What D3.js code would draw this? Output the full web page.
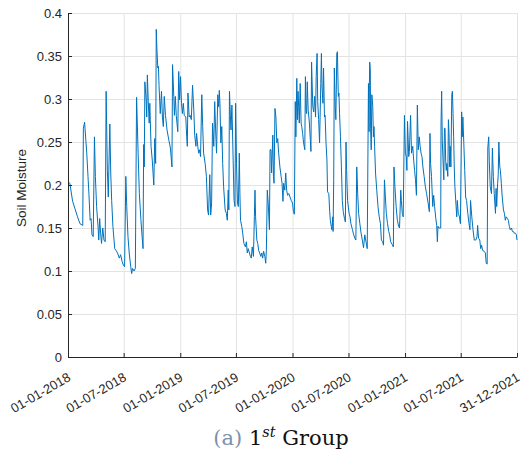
<!DOCTYPE html>
<html lang="en">
<head>
<meta charset="UTF-8">
<script src="https://cdnjs.cloudflare.com/ajax/libs/d3/7.9.0/d3.min.js"></script>
<title>Soil Moisture - 1st Group</title>
<style>
    body {
        margin: 0;
        padding: 0;
        background: #fff;
    }
    svg {
        display: block;
        font-family: "Liberation Sans", Arial, sans-serif;
    }
</style>
</head>
<body>
<div id="chart"></div>
<script>
// time range and ticks
const startDate = "2018-01-01";
const endDate = "2021-12-31";
const xTickDates = ["2018-01-01", "2018-07-01", "2019-01-01", "2019-07-01", "2020-01-01",
                    "2020-07-01", "2021-01-01", "2021-07-01", "2021-12-31"];
const xTickLabels = ["01-01-2018", "01-07-2018", "01-01-2019", "01-07-2019", "01-01-2020",
                     "01-07-2020", "01-01-2021", "01-07-2021", "31-12-2021"];
const yTicks = [0, 0.05, 0.1, 0.15, 0.2, 0.25, 0.3, 0.35, 0.4];
const yTickLabels = ["0", "0.05", "0.1", "0.15", "0.2", "0.25", "0.3", "0.35", "0.4"];

// [days since 01-01-2018, soil moisture]
const moisture2018 = [[0,.204],[6,.202],[15,.181],[24,.171],[31,.163],[39,.155],[48,.153],[50,.266],[54,.273],[58,.252],
    [61,.237],[65,.210],[68,.190],[72,.159],[75,.161],[78,.142],[82,.140],[86,.256],[89,.210],[93,.175],[98,.150],
    [100,.136],[103,.161],[106,.144],[109,.132],[113,.150],[117,.136],[121,.134],[124,.309],[128,.217],[131,.186],
    [136,.271],[139,.214],[142,.182],[146,.152],[152,.126],[156,.124],[161,.121],[167,.115],[171,.119],[176,.111],
    [180,.107],[184,.105],[188,.210],[191,.175],[195,.140],[199,.121],[204,.105],[207,.097],[210,.103],[215,.100],
    [219,.103],[223,.302],[228,.237],[232,.190],[237,.160],[241,.140],[244,.126],[246,.247],[248,.221],[250,.320],
    [254,.299],[256,.279],[258,.328],[261,.297],[264,.272],[266,.295],[270,.245],[274,.229],[279,.200],[282,.254],
    [285,.225],[287,.381],[289,.359],[292,.336],[294,.338],[296,.316],[300,.283],[304,.309],[307,.279],[310,.268],
    [313,.303],[317,.281],[322,.264],[328,.252],[333,.243],[338,.221],[340,.340],[344,.303],[346,.281],[349,.303],
    [352,.281],[357,.262],[360,.332],[363,.299]];

const moisture2019 = [[366,.326],[369,.295],[372,.283],[375,.295],[378,.281],[383,.279],[386,.256],[388,.245],
    [390,.307],[394,.279],[397,.281],[401,.276],[405,.316],[409,.287],[412,.258],[416,.245],[418,.260],[422,.245],
    [425,.237],[428,.241],[431,.233],[435,.305],[438,.268],[441,.237],[446,.225],[450,.210],[454,.171],[457,.165],
    [461,.212],[464,.165],[467,.179],[470,.272],[474,.245],[477,.297],[480,.264],[483,.237],[487,.305],[490,.291],
    [492,.310],[494,.295],[497,.249],[500,.268],[503,.225],[506,.198],[511,.171],[515,.167],[518,.159],[521,.194],
    [523,.171],[525,.309],[528,.281],[530,.264],[533,.293],[537,.229],[540,.182],[543,.175],[545,.295],[548,.225],
    [551,.179],[554,.175],[557,.237],[559,.190],[561,.159],[565,.152],[568,.144],[572,.132],[577,.128],[580,.134],
    [583,.121],[586,.126],[590,.121],[593,.117],[596,.115],[599,.128],[603,.117],[606,.163],[608,.194],[610,.163],
    [614,.136],[617,.132],[620,.124],[623,.121],[627,.117],[630,.121],[633,.115],[636,.123],[640,.117],[643,.109],
    [645,.124],[648,.194],[651,.179],[655,.148],[657,.241],[660,.241],[662,.214],[666,.258],[668,.210],[670,.202],
    [673,.289],[676,.279],[679,.249],[682,.254],[685,.237],[689,.221],[693,.210],[696,.202],[699,.181],[701,.202],
    [705,.194],[708,.214],[711,.194],[714,.188],[718,.190],[722,.186],[726,.182]];

const moisture2020 = [[730,.179],[733,.169],[736,.166],[739,.297],[741,.256],[744,.324],[746,.276],[748,.309],
    [750,.291],[752,.272],[755,.318],[758,.272],[760,.268],[763,.260],[766,.249],[770,.241],[772,.326],[774,.287],
    [776,.283],[778,.320],[781,.287],[785,.272],[788,.252],[790,.239],[792,.343],[796,.291],[799,.285],[802,.303],
    [805,.279],[807,.326],[810,.353],[812,.297],[815,.276],[818,.249],[822,.318],[824,.353],[826,.314],[829,.295],
    [831,.336],[834,.279],[836,.281],[839,.249],[842,.229],[844,.192],[848,.190],[851,.169],[853,.159],[856,.152],
    [858,.148],[861,.163],[862,.146],[864,.206],[866,.336],[869,.291],[871,.276],[874,.353],[876,.355],[879,.303],
    [881,.307],[883,.283],[886,.256],[889,.221],[892,.182],[895,.169],[899,.161],[902,.157],[904,.250],[906,.217],
    [909,.182],[914,.167],[917,.163],[920,.155],[925,.148],[929,.142],[933,.138],[936,.136],[939,.221],[942,.190],
    [945,.167],[949,.155],[953,.144],[957,.136],[961,.127],[965,.142],[969,.134],[973,.126],[977,.318],[979,.262],
    [980,.316],[981,.343],[983,.334],[984,.266],[986,.241],[988,.305],[991,.291],[993,.256],[995,.268],[997,.245],
    [1000,.214],[1004,.194],[1008,.175],[1012,.163],[1016,.155],[1019,.136],[1023,.134],[1026,.130],[1029,.206],
    [1032,.186],[1035,.167],[1039,.155],[1043,.146],[1046,.142],[1049,.134],[1054,.131],[1058,.128],[1060,.221],
    [1063,.198],[1067,.175],[1071,.159],[1075,.152],[1078,.150],[1082,.194],[1084,.182],[1087,.167],[1090,.163],
    [1094,.281]];

const moisture2021 = [[1097,.237],[1100,.233],[1102,.217],[1104,.274],[1108,.233],[1110,.239],[1114,.281],
    [1117,.237],[1121,.245],[1124,.229],[1127,.217],[1130,.206],[1133,.188],[1136,.293],[1139,.241],[1142,.256],
    [1145,.245],[1148,.237],[1151,.233],[1154,.221],[1158,.210],[1162,.198],[1166,.190],[1171,.179],[1175,.169],
    [1177,.260],[1179,.225],[1182,.210],[1186,.175],[1189,.188],[1192,.175],[1196,.161],[1199,.153],[1201,.134],
    [1203,.152],[1206,.150],[1212,.150],[1213,.272],[1215,.309],[1217,.252],[1219,.233],[1222,.206],[1224,.266],
    [1226,.266],[1228,.229],[1230,.217],[1232,.225],[1235,.210],[1237,.276],[1239,.260],[1241,.221],[1243,.245],
    [1245,.221],[1248,.305],[1250,.309],[1252,.283],[1254,.256],[1256,.221],[1258,.198],[1262,.175],[1264,.163],
    [1266,.182],[1269,.167],[1273,.163],[1276,.155],[1280,.285],[1282,.256],[1284,.279],[1287,.249],[1290,.217],
    [1293,.186],[1296,.182],[1300,.167],[1304,.155],[1307,.148],[1309,.182],[1313,.163],[1317,.148],[1321,.136],
    [1326,.136],[1330,.140],[1332,.153],[1335,.138],[1339,.136],[1342,.126],[1345,.130],[1348,.124],[1353,.123],
    [1357,.121],[1360,.109],[1363,.108],[1365,.243],[1368,.256],[1370,.227],[1373,.198],[1377,.190],[1380,.243],
    [1383,.210],[1386,.190],[1390,.167],[1392,.196],[1394,.175],[1397,.202],[1399,.212],[1401,.250],[1404,.221],
    [1406,.217],[1409,.202],[1412,.186],[1416,.171],[1419,.167],[1422,.159],[1425,.163],[1429,.161],[1432,.159],
    [1435,.152],[1438,.148],[1442,.150],[1445,.146],[1448,.146],[1451,.144],[1455,.144],[1458,.142],[1460,.136]];

const width = 521, height = 455;
const plot = { left: 68, right: 517, top: 13, bottom: 357 };
const axisColor = "#262626";

const parseDate = d3.utcParse("%Y-%m-%d");
const t0 = parseDate(startDate);

const x = d3.scaleUtc()
    .domain([t0, parseDate(endDate)])
    .range([plot.left, plot.right]);
const y = d3.scaleLinear()
    .domain([0, 0.4])
    .range([plot.bottom, plot.top]);

const svg = d3.select("#chart").append("svg")
    .attr("width", width)
    .attr("height", height);

const tickDates = xTickDates.map(parseDate);

// grid
svg.append("g")
    .attr("transform", `translate(0,${plot.bottom})`)
    .call(d3.axisBottom(x).tickValues(tickDates).tickSize(-(plot.bottom - plot.top)).tickFormat(""))
    .call(g => g.select(".domain").remove())
    .call(g => g.selectAll("line").attr("stroke", "#e3e3e3").attr("stroke-width", 1));
svg.append("g")
    .attr("transform", `translate(${plot.left},0)`)
    .call(d3.axisLeft(y).tickValues(yTicks).tickSize(-(plot.right - plot.left)).tickFormat(""))
    .call(g => g.select(".domain").remove())
    .call(g => g.selectAll("line").attr("stroke", "#e3e3e3").attr("stroke-width", 1));

// data line
const series = [...moisture2018, ...moisture2019, ...moisture2020, ...moisture2021];
const line = d3.line()
    .x(d => x(d3.utcDay.offset(t0, d[0])))
    .y(d => y(d[1]));

svg.append("path")
    .datum(series)
    .attr("fill", "none")
    .attr("stroke", "#0072BD")
    .attr("stroke-width", 1)
    .attr("stroke-linejoin", "round")
    .attr("d", line);

// x axis
const xAxis = svg.append("g")
    .attr("transform", `translate(0,${plot.bottom})`)
    .call(d3.axisBottom(x).tickValues(tickDates).tickSizeInner(-4).tickSizeOuter(0)
        .tickPadding(0).tickFormat((d, i) => xTickLabels[i]));
xAxis.select(".domain").attr("stroke", axisColor);
xAxis.selectAll("line").attr("stroke", axisColor);
xAxis.selectAll("text")
    .attr("fill", axisColor)
    .attr("font-size", 13)
    .attr("text-anchor", "end")
    .attr("y", 0)
    .attr("dy", 0)
    .attr("transform", "translate(3,23) rotate(-30)");

// y axis
const yAxis = svg.append("g")
    .attr("transform", `translate(${plot.left},0)`)
    .call(d3.axisLeft(y).tickValues(yTicks).tickSizeInner(-4).tickSizeOuter(0)
        .tickPadding(6).tickFormat((d, i) => yTickLabels[i]));
yAxis.select(".domain").attr("stroke", axisColor);
yAxis.selectAll("line").attr("stroke", axisColor);
yAxis.selectAll("text")
    .attr("fill", axisColor)
    .attr("font-size", 13);

svg.append("text")
    .attr("transform", `translate(26,${(plot.top + plot.bottom) / 2 + 3}) rotate(-90)`)
    .attr("text-anchor", "middle")
    .attr("fill", axisColor)
    .attr("font-size", 13.5)
    .text("Soil Moisture");

// caption
const caption = svg.append("text")
    .attr("x", 281)
    .attr("y", 445)
    .attr("text-anchor", "middle")
    .attr("font-family", "'DejaVu Serif', 'Liberation Serif', serif")
    .attr("font-size", 21);
caption.append("tspan").attr("fill", "#7b93ab").text("(a)");
caption.append("tspan").attr("fill", "#111").text(" 1");
caption.append("tspan").attr("fill", "#111").attr("font-style", "italic")
    .attr("font-size", 14.5).attr("dy", -8).text("st");
caption.append("tspan").attr("fill", "#111").attr("dy", 8).text(" Group");
</script>
</body>
</html>
